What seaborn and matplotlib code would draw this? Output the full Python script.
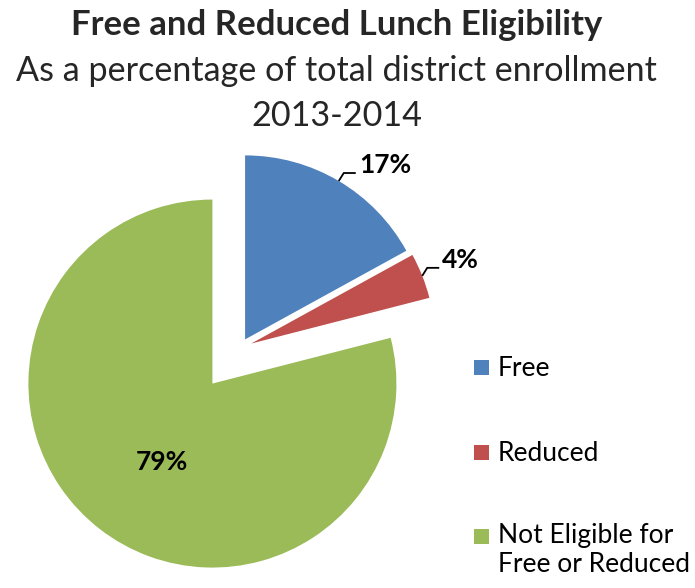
import matplotlib
matplotlib.use("Agg")
import matplotlib.pyplot as plt
import matplotlib.patches as mpatches
import seaborn as sns
import numpy as np

# ---- data ----
categories = ["Free", "Reduced", "Not Eligible for\nFree or Reduced"]
shares = [17, 4, 79]
pct_labels = ["17%", "4%", "79%"]
colors = ["#4F81BD", "#C0504D", "#9BBB59"]
title_lines = ["Free and Reduced Lunch Eligibility",
               "As a percentage of total district enrollment",
               "2013-2014"]

sns.set_theme(style="white")
plt.rcParams['font.family'] = ['Lato', 'DejaVu Sans']

W, H = 695, 588
fig = plt.figure(figsize=(W / 100, H / 100), dpi=100)
ax = fig.add_axes([0, 0, 1, 1])

R = 184
wedges, _ = ax.pie(shares, colors=colors, startangle=90, counterclock=False,
                   radius=R, center=(240, H - 348), explode=[10, 12, 45],
                   wedgeprops=dict(linewidth=0), frame=True)
ax.set_xlim(0, W)
ax.set_ylim(0, H)
ax.set_aspect('equal')
ax.axis('off')

# ---- data labels ----
for i, w in enumerate(wedges):
    th = np.deg2rad((w.theta1 + w.theta2) / 2)
    cx, cy = w.center
    if i < 2:
        ex, ey = cx + R * np.cos(th), cy + R * np.sin(th)
        ax.plot([ex, ex + 5, ex + 17], [ey, ey + 8, ey + 8], color='black', lw=1.3,
                solid_capstyle='butt')
        ax.text(ex + 20, ey + 8, pct_labels[i], fontsize=19, fontweight='bold',
                ha='left', va='baseline', color='black')
    else:
        px, py = cx + 0.5 * R * np.cos(th), cy + 0.5 * R * np.sin(th)
        ax.text(px + 6, py - 6, pct_labels[i], fontsize=19, fontweight='bold',
                ha='center', va='center', color='black')

# ---- legend ----
square_bottoms = [376, 461, 545]
text_baselines = [376, 461, 572]   # baseline of the last text line
for lab, col, sb, tb in zip(categories, colors, square_bottoms, text_baselines):
    ax.add_patch(mpatches.Rectangle((474, H - sb + 1), 15, 15, color=col, lw=0))
    ax.text(498, H - tb, lab, fontsize=19, ha='left', va='baseline',
            color='black', linespacing=1.2)

# ---- titles ----
fig.text(337 / W, 1 - 35 / H, title_lines[0], fontsize=25, fontweight='bold',
         ha='center', va='baseline')
fig.text(336 / W, 1 - 81 / H, title_lines[1], fontsize=24.6,
         ha='center', va='baseline')
fig.text(337 / W, 1 - 126 / H, title_lines[2], fontsize=24.6,
         ha='center', va='baseline')

fig.savefig("out.png", dpi=100, facecolor='white')
